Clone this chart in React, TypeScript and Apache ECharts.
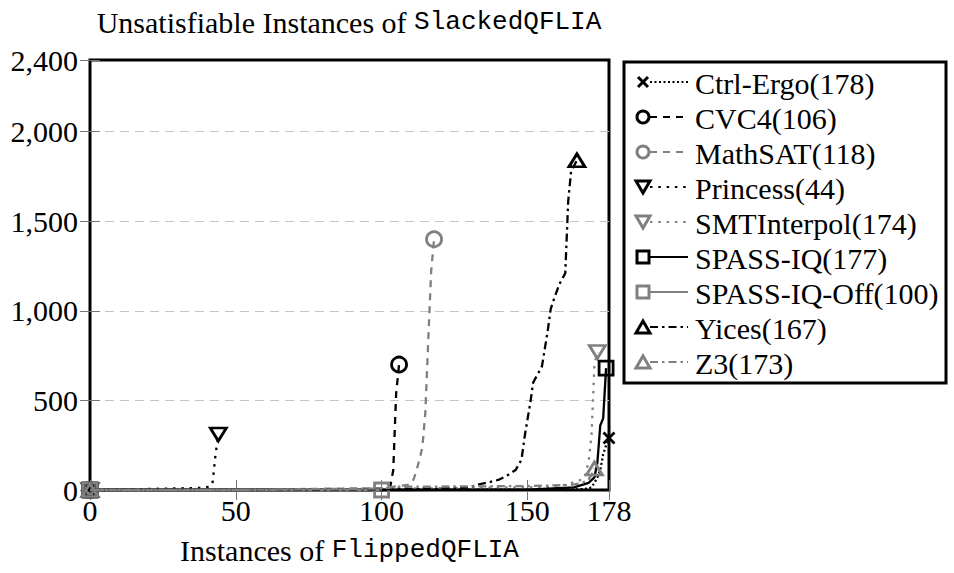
import React, { useEffect, useRef } from 'react';
import * as echarts from 'echarts';

// ---------- data (instance index, time) ----------
const xTickValues = [0, 50, 100, 150, 178];
const yTickValues = [0, 500, 1000, 1500, 2000, 2400];

const ctrlErgo = [[0, 0], [60, 0], [120, 1], [160, 2], [168, 4], [171, 8], [172, 15], [173, 40], [174, 70], [175, 110], [176, 200], [177, 250], [178, 290]];
const cvc4 = [[0, 0], [40, 1], [80, 2], [100, 3], [102, 6], [103, 20], [104, 110], [105, 540], [106, 700]];
const mathsat = [[0, 0], [50, 2], [100, 10], [105, 20], [109, 28], [110, 35], [111, 60], [112, 110], [113, 170], [114, 240], [115, 430], [116, 830], [117, 1220], [118, 1400]];
const princess = [[0, 0], [5, 1], [12, 3], [20, 6], [30, 9], [38, 12], [41, 18], [42, 35], [43, 190], [44, 310]];
const smtInterpol = [[0, 0], [60, 2], [110, 8], [130, 12], [150, 15], [160, 17], [165, 39], [169, 60], [170, 90], [171, 160], [172, 300], [173, 700], [174, 770]];
const spassIQ = [[0, 0], [100, 0], [150, 2], [166, 15], [171, 40], [173, 70], [174, 150], [175, 360], [176, 400], [177, 680]];
const spassIQOff = [[0, 0], [50, 0], [100, 0]];
const yices = [[0, 0], [50, 1], [100, 4], [120, 8], [130, 14], [133, 30], [136, 40], [140, 56], [143, 80], [146, 112], [148, 170], [149, 290], [150, 390], [151, 485], [152, 600], [153, 630], [155, 690], [156, 790], [157, 890], [158, 1010], [159, 1060], [161, 1150], [163, 1210], [164, 1610], [165, 1780], [167, 1840]];
const z3 = [[0, 0], [50, 1], [100, 8], [105, 18], [130, 20], [150, 22], [165, 28], [169, 40], [171, 60], [172, 85], [173, 120]];

const seriesNames = ['Ctrl-Ergo(178)', 'CVC4(106)', 'MathSAT(118)', 'Princess(44)', 'SMTInterpol(174)', 'SPASS-IQ(177)', 'SPASS-IQ-Off(100)', 'Yices(167)', 'Z3(173)'];
const seriesData = [ctrlErgo, cvc4, mathsat, princess, smtInterpol, spassIQ, spassIQOff, yices, z3];

// ---------- styles ----------
const BLACK = '#000000';
const GRAY = '#808080';
const SERIF = '"Liberation Serif", "Times New Roman", serif';
const MONO = '"Liberation Mono", "DejaVu Sans Mono", monospace';
const FS = 30;

type Marker = 'cross' | 'circle' | 'triDown' | 'square' | 'triUp';
const seriesStyles: { color: string; dash: any; marker: Marker }[] = [
  { color: BLACK, dash: [2, 2.5], marker: 'cross' },
  { color: BLACK, dash: [7, 6], marker: 'circle' },
  { color: GRAY, dash: [7, 6], marker: 'circle' },
  { color: BLACK, dash: [2.5, 5.8], marker: 'triDown' },
  { color: GRAY, dash: [2.5, 5.8], marker: 'triDown' },
  { color: BLACK, dash: 'solid', marker: 'square' },
  { color: GRAY, dash: 'solid', marker: 'square' },
  { color: BLACK, dash: [8, 4, 2.5, 4], marker: 'triUp' },
  { color: GRAY, dash: [8, 4, 2.5, 4], marker: 'triUp' },
];

const symbolMap: Record<Marker, { symbol: string; size: any }> = {
  cross: { symbol: 'path://M0,0L10,10M0,10L10,0', size: [11, 11] },
  circle: { symbol: 'circle', size: 15 },
  triDown: { symbol: 'path://M0,0L10,0L5,8.66Z', size: [16, 13] },
  square: { symbol: 'rect', size: 14 },
  triUp: { symbol: 'path://M5,0L10,8.66L0,8.66Z', size: [16, 13] },
};

const GRID = { left: 90, top: 60, width: 519, height: 430 };

function legendGraphics() {
  const els: any[] = [];
  els.push({
    type: 'rect',
    shape: { x: 624, y: 62, width: 322, height: 321 },
    style: { fill: '#fff', stroke: BLACK, lineWidth: 3 },
    z: 100,
  });
  seriesNames.forEach((name, i) => {
    const y = 82 + 35 * i;
    const st = seriesStyles[i];
    const mx = 643;
    els.push({
      type: 'line',
      shape: { x1: 650, y1: y, x2: 688, y2: y },
      style: { stroke: st.color, lineWidth: 2.2, lineDash: st.dash === 'solid' ? null : st.dash },
      z: 101,
    });
    const mstyle = { fill: 'none', stroke: st.color, lineWidth: 3 };
    if (st.marker === 'cross') {
      els.push({ type: 'line', shape: { x1: mx - 5, y1: y - 5, x2: mx + 5, y2: y + 5 }, style: mstyle, z: 102 });
      els.push({ type: 'line', shape: { x1: mx - 5, y1: y + 5, x2: mx + 5, y2: y - 5 }, style: mstyle, z: 102 });
    } else if (st.marker === 'circle') {
      els.push({ type: 'circle', shape: { cx: mx, cy: y, r: 6 }, style: mstyle, z: 102 });
    } else if (st.marker === 'triDown') {
      els.push({ type: 'polygon', shape: { points: [[mx - 7, y - 6], [mx + 7, y - 6], [mx, y + 6]] }, style: mstyle, z: 102 });
    } else if (st.marker === 'triUp') {
      els.push({ type: 'polygon', shape: { points: [[mx, y - 6], [mx + 7, y + 6], [mx - 7, y + 6]] }, style: mstyle, z: 102 });
    } else {
      els.push({ type: 'rect', shape: { x: mx - 6, y: y - 6, width: 12, height: 12 }, style: mstyle, z: 102 });
    }
    els.push({
      type: 'text',
      x: 695,
      y: y + 1,
      style: { text: name, fill: BLACK, font: `${FS}px ${SERIF}`, verticalAlign: 'middle', align: 'left' },
      z: 102,
    });
  });
  return els;
}

export default function App() {
  const ref = useRef<HTMLDivElement>(null);

  useEffect(() => {
    document.body.style.margin = '0';
    if (!ref.current) return;
    const chart = echarts.init(ref.current, undefined, { renderer: 'svg' });

    const series = seriesData.map((pts, i) => {
      const st = seriesStyles[i];
      const sm = symbolMap[st.marker];
      return {
        name: seriesNames[i],
        type: 'line',
        xAxisIndex: 0,
        yAxisIndex: 0,
        clip: false,
        silent: true,
        symbol: sm.symbol,
        symbolSize: sm.size,
        showSymbol: true,
        showAllSymbol: true,
        emphasis: { disabled: true },
        itemStyle: { color: 'rgba(255,255,255,0)', borderColor: st.color, borderWidth: 2.8 },
        lineStyle: { color: st.color, width: 2.3, type: st.dash, cap: 'butt' },
        data: pts.map((p, j) => (j === 0 || j === pts.length - 1 ? { value: p } : { value: p, symbol: 'none' })),
        z: 10 + i,
      };
    });

    const labelStyle = { fontFamily: SERIF, fontSize: FS, color: BLACK };
    const tickStyle = { color: '#777', width: 1 };

    chart.setOption({
      animation: false,
      backgroundColor: '#fff',
      title: {
        text: '{a|Unsatisfiable Instances of }{b|SlackedQFLIA}',
        left: 349,
        top: 7,
        padding: 0,
        textAlign: 'center',
        textStyle: {
          fontSize: FS,
          fontWeight: 'normal',
          color: BLACK,
          rich: {
            a: { fontFamily: SERIF, fontSize: FS, color: BLACK, fontWeight: 'normal' },
            b: { fontFamily: MONO, fontSize: 26, color: BLACK, fontWeight: 'normal' },
          },
        },
      },
      grid: { ...GRID, show: true, borderColor: BLACK, borderWidth: 3, backgroundColor: 'transparent' },
      xAxis: [
        {
          type: 'value',
          min: 0,
          max: 178,
          interval: 50,
          position: 'bottom',
          axisLine: { show: false },
          axisTick: { show: true, inside: true, length: 10, lineStyle: tickStyle, customValues: xTickValues },
          axisLabel: { ...labelStyle, margin: 5, customValues: xTickValues },
          splitLine: { show: false },
          name: '{a|Instances of }{b|FlippedQFLIA}',
          nameLocation: 'middle',
          nameGap: 45,
          nameTextStyle: {
            fontSize: FS,
            color: BLACK,
            rich: {
              a: { fontFamily: SERIF, fontSize: FS, color: BLACK },
              b: { fontFamily: MONO, fontSize: 26, color: BLACK },
            },
          },
        },
        {
          type: 'value',
          min: 0,
          max: 178,
          interval: 50,
          position: 'top',
          axisLine: { show: false },
          axisTick: { show: true, inside: true, length: 10, lineStyle: tickStyle, customValues: xTickValues },
          axisLabel: { show: false },
          splitLine: { show: false },
        },
      ],
      yAxis: [
        {
          type: 'value',
          min: 0,
          max: 2400,
          interval: 500,
          position: 'left',
          axisLine: { show: false },
          axisTick: { show: true, inside: true, length: 10, lineStyle: tickStyle, customValues: yTickValues },
          axisLabel: {
            ...labelStyle,
            margin: 12,
            customValues: yTickValues,
            formatter: (v: number) => v.toLocaleString('en-US'),
          },
          splitLine: {
            show: true,
            showMinLine: false,
            showMaxLine: false,
            lineStyle: { color: '#c4c4c4', width: 1, type: [9, 6] },
          },
        },
        {
          type: 'value',
          min: 0,
          max: 2400,
          interval: 500,
          position: 'right',
          axisLine: { show: false },
          axisTick: { show: true, inside: true, length: 10, lineStyle: tickStyle, customValues: yTickValues },
          axisLabel: { show: false },
          splitLine: { show: false },
        },
      ],
      series,
      graphic: legendGraphics(),
    });

    return () => {
      chart.dispose();
    };
  }, []);

  return (
    <div
      ref={ref}
      style={{ position: 'absolute', left: 0, top: 0, width: 954, height: 573, background: '#fff' }}
    />
  );
}
